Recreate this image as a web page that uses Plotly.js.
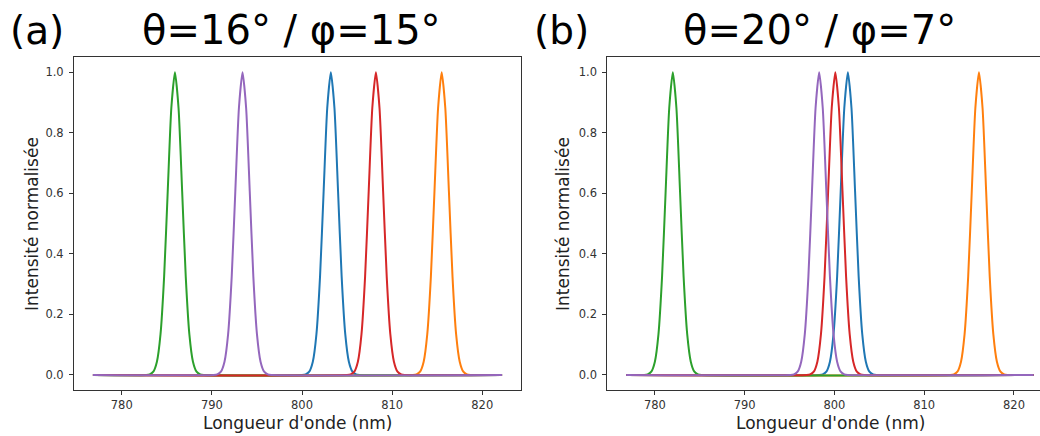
<!DOCTYPE html>
<html>
<head>
<meta charset="utf-8">
<script src="https://cdn.plot.ly/plotly-3.0.1.min.js"></script>
<style>html,body{margin:0;padding:0;background:#fff;}#chart{width:1040px;height:436px;}</style>
</head>
<body>
<div id="chart"></div>
<script>
// Series names / colours (matplotlib default cycle order C0..C4)
const seriesNames = ["C0", "C1", "C2", "C3", "C4"];
const seriesColors = ["#1f77b4", "#ff7f0e", "#2ca02c", "#d62728", "#9467bd"];

// Peak centres (nm), same order as seriesNames
const peaksA = [803.2, 815.5, 785.9, 808.2, 793.4];   // θ=16° / φ=15°
const peaksB = [801.5, 816.1, 782.0, 800.1, 798.3];   // θ=20° / φ=7°

// Peak profile (offset from centre in nm, normalised intensity)
const profileOffset = [-3.2, -2.8, -2.4, -2.0, -1.6, -1.2, -0.8, -0.4, 0, 0.4, 0.8, 1.2, 1.6, 2.0, 2.4, 2.8, 3.2];
const profileValue  = [0, 0.002, 0.011, 0.044, 0.135, 0.325, 0.607, 0.882, 1.0, 0.882, 0.607, 0.325, 0.135, 0.044, 0.011, 0.002, 0];

// Wavelength span of every spectrum (nm)
const spanStart = 776.8;
const spanEnd = 822.2;

const xTicks = [780, 790, 800, 810, 820];
const yTicks = [0.0, 0.2, 0.4, 0.6, 0.8, 1.0];
const yTickText = ["0.0", "0.2", "0.4", "0.6", "0.8", "1.0"];

const panelTitles = ["θ=16° / φ=15°", "θ=20° / φ=7°"];
const panelLetters = ["(a)", "(b)"];
const xLabel = "Longueur d'onde (nm)";
const yLabel = "Intensité normalisée";

function spectrum(center) {
  const xs = [spanStart], ys = [0];
  for (let i = 0; i < profileOffset.length; i++) {
    xs.push(center + profileOffset[i]);
    ys.push(profileValue[i]);
  }
  xs.push(spanEnd); ys.push(0);
  return {x: xs, y: ys};
}

const traces = [];
[[peaksA, "x", "y"], [peaksB, "x2", "y2"]].forEach(([peaks, xa, ya]) => {
  peaks.forEach((c, i) => {
    const s = spectrum(c);
    traces.push({
      type: "scatter", mode: "lines", x: s.x, y: s.y,
      xaxis: xa, yaxis: ya, name: seriesNames[i],
      line: {color: seriesColors[i], width: 2, shape: "spline", smoothing: 0.6},
      hoverinfo: "skip", showlegend: false
    });
  });
});

const W = 1040, H = 436;
const font = "DejaVu Sans, Verdana, sans-serif";
const axCommon = {
  showgrid: false, zeroline: false, showline: true, linecolor: "#333", linewidth: 1,
  ticks: "outside", ticklen: 4, tickwidth: 1, tickcolor: "#333",
  tickfont: {family: font, size: 11.5, color: "#333"}
};
const yDom = [1 - 390 / H, 1 - 57 / H];
const yRange = [-0.0496, 1.0505];

const layout = {
  width: W, height: H,
  margin: {l: 0, r: 0, t: 0, b: 0},
  paper_bgcolor: "#fff", plot_bgcolor: "#fff",
  showlegend: false,
  xaxis: Object.assign({}, axCommon, {domain: [74 / W, 521 / W], range: [774.7, 824.3], tickvals: xTicks, mirror: true, anchor: "y"}),
  yaxis: Object.assign({}, axCommon, {domain: yDom, range: yRange, tickvals: yTicks, ticktext: yTickText, mirror: true, anchor: "x", ticklabelstandoff: 3}),
  xaxis2: Object.assign({}, axCommon, {domain: [607.3 / W, 1], range: [774.7, 822.9], tickvals: xTicks, mirror: true, anchor: "y2"}),
  yaxis2: Object.assign({}, axCommon, {domain: yDom, range: yRange, tickvals: yTicks, ticktext: yTickText, mirror: false, anchor: "x2", ticklabelstandoff: 3}),
  annotations: [
    {text: panelLetters[0], x: 8 / W, y: 1 - 30 / H, xref: "paper", yref: "paper", xanchor: "left", yanchor: "middle", showarrow: false, font: {family: font, size: 39, color: "#000"}},
    {text: panelTitles[0], x: 291 / W, y: 1 - 30 / H, xref: "paper", yref: "paper", xanchor: "center", yanchor: "middle", showarrow: false, font: {family: font, size: 40, color: "#000"}},
    {text: panelLetters[1], x: 532 / W, y: 1 - 30 / H, xref: "paper", yref: "paper", xanchor: "left", yanchor: "middle", showarrow: false, font: {family: font, size: 39, color: "#000"}},
    {text: panelTitles[1], x: 819 / W, y: 1 - 30 / H, xref: "paper", yref: "paper", xanchor: "center", yanchor: "middle", showarrow: false, font: {family: font, size: 40, color: "#000"}},
    {text: xLabel, x: 297 / W, y: 1 - 423 / H, xref: "paper", yref: "paper", xanchor: "center", yanchor: "middle", showarrow: false, font: {family: font, size: 17, color: "#222"}},
    {text: xLabel, x: 830 / W, y: 1 - 423 / H, xref: "paper", yref: "paper", xanchor: "center", yanchor: "middle", showarrow: false, font: {family: font, size: 17, color: "#222"}},
    {text: yLabel, x: 32 / W, y: 1 - 224 / H, xref: "paper", yref: "paper", xanchor: "center", yanchor: "middle", textangle: -90, showarrow: false, font: {family: font, size: 17, color: "#222"}},
    {text: yLabel, x: 563 / W, y: 1 - 224 / H, xref: "paper", yref: "paper", xanchor: "center", yanchor: "middle", textangle: -90, showarrow: false, font: {family: font, size: 17, color: "#222"}}
  ]
};

Plotly.newPlot("chart", traces, layout, {staticPlot: true, displayModeBar: false});
</script>
</body>
</html>
